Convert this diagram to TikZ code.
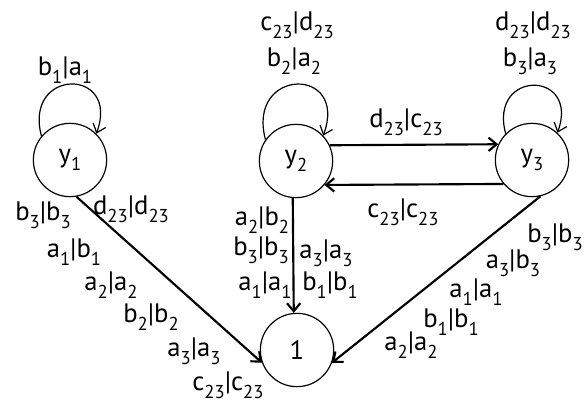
\documentclass[tikz,border=0pt]{standalone}
\usepackage{fontspec}
\setmainfont{PT Sans}
\usetikzlibrary{arrows.meta,positioning}
\newcommand{\lo}[1]{\raisebox{-0.3em}{\fontsize{14}{14}\selectfont #1}}
\newcommand{\io}[4]{#1\lo{#2}|#3\lo{#4}}

\begin{document}
\begin{tikzpicture}[x=0.75pt,y=-0.75pt,>={Straight Barb[length=6pt,width=10pt]},
  state/.style={circle,draw,line width=0.9pt,minimum size=55pt,inner sep=0pt,font=\fontsize{20}{22}\selectfont},
  trans/.style={->,line width=1.6pt},
  selfloop/.style={->,line width=0.9pt,out=105,in=70,looseness=3.3},
  lab/.style={inner sep=0pt,font=\fontsize{20}{22}\selectfont}]
\useasboundingbox (0,0) rectangle (584,403);
% states
\node[state] (y1) at (70,160) {y\lo{1}};
\node[state] (y2) at (296,161) {y\lo{2}};
\node[state] (y3) at (532,160) {y\lo{3}};
\node[state] (one) at (297,350) {1};
% self loops
\draw[selfloop] (y1.140) to (y1.45);
\draw[selfloop] (y2.145) to (y2.43);
\draw[selfloop] (y3.135) to (y3.47);
\node[lab] (ly1) at (65,70) {\io{b}{1}{a}{1}};
\node[lab] (ly2a) at (297,25) {\io{c}{23}{d}{23}};
\node[lab] (ly2b) at (294,61) {\io{b}{2}{a}{2}};
\node[lab] (ly3a) at (533,25) {\io{d}{23}{d}{23}};
\node[lab] (ly3b) at (530,61) {\io{b}{3}{a}{3}};
% between y2 and y3
\draw[trans] (y2.25) -- (y3.155);
\draw[trans] (y3.220) -- (y2.-40);
\node[lab] (l23) at (406,122) {\io{d}{23}{c}{23}};
\node[lab] (l32) at (403,212) {\io{c}{23}{c}{23}};
% into 1
\draw[trans] (y1.-80) -- (one.200);
\draw[trans] (y2.265) -- (one.95);
\draw[trans] (y3.-77) -- (one.-20);
\node[lab] (l1a) at (131,209) {\io{d}{23}{d}{23}};
\node[lab] (l1b) at (43,215) {\io{b}{3}{b}{3}};
\node[lab] (l1c) at (74,252) {\io{a}{1}{b}{1}};
\node[lab] (l1d) at (111,285) {\io{a}{2}{a}{2}};
\node[lab] (l1e) at (151,317) {\io{b}{2}{b}{2}};
\node[lab] (l1f) at (194,351) {\io{a}{3}{a}{3}};
\node[lab] (l1g) at (228,385) {\io{c}{23}{c}{23}};
\node[lab] (l2a) at (262,220) {\io{a}{2}{b}{2}};
\node[lab] (l2b) at (261,250) {\io{b}{3}{b}{3}};
\node[lab] (l2c) at (265,285) {\io{a}{1}{a}{1}};
\node[lab] (l2d) at (326,253) {\io{a}{3}{a}{3}};
\node[lab] (l2e) at (330,285) {\io{b}{1}{b}{1}};
\node[lab] (l3a) at (555,237) {\io{b}{3}{b}{3}};
\node[lab] (l3b) at (513,263) {\io{a}{3}{b}{3}};
\node[lab] (l3c) at (476,292) {\io{a}{1}{a}{1}};
\node[lab] (l3d) at (451,322) {\io{b}{1}{b}{1}};
\node[lab] (l3e) at (411,345) {\io{a}{2}{a}{2}};
\end{tikzpicture}
\end{document}
